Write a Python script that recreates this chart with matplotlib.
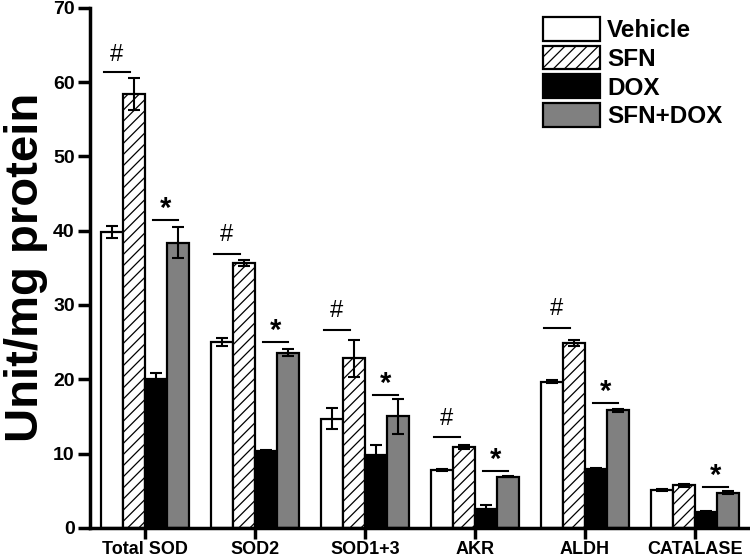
import numpy as np
import matplotlib
matplotlib.use("Agg")
import matplotlib.pyplot as plt

plt.rcParams['font.family'] = ['Liberation Sans', 'DejaVu Sans']
plt.rcParams['font.weight'] = 'bold'
plt.rcParams['hatch.linewidth'] = 0.9

categorias = ["Total SOD", "SOD2", "SOD1+3", "AKR", "ALDH", "CATALASE"]
grupos = ["Vehicle", "SFN", "DOX", "SFN+DOX"]

vehicle = [39.8, 25.0, 14.7, 7.8, 19.7, 5.1]
vehicle_err = [0.8, 0.5, 1.4, 0.1, 0.2, 0.1]
sfn = [58.4, 35.7, 22.8, 10.9, 24.9, 5.75]
sfn_err = [2.1, 0.4, 2.5, 0.3, 0.4, 0.2]
dox = [20.0, 10.3, 9.8, 2.6, 7.9, 2.15]
dox_err = [0.8, 0.2, 1.3, 0.5, 0.15, 0.1]
sfn_dox = [38.4, 23.6, 15.0, 6.9, 15.8, 4.75]
sfn_dox_err = [2.1, 0.5, 2.4, 0.1, 0.2, 0.25]

# marcas de significancia: altura da linha e do simbolo (None = sem marca)
hash_linha = [61.3, 36.9, 26.6, 12.2, 26.9, None]
hash_texto = [63.6, 39.4, 29.2, 14.6, 29.4, None]
estrela_linha = [41.4, 25.0, 17.9, 7.7, 16.8, 5.5]
estrela_texto = [42.9, 26.5, 19.4, 9.2, 18.3, 7.0]

valores = [vehicle, sfn, dox, sfn_dox]
erros = [vehicle_err, sfn_err, dox_err, sfn_dox_err]
cores = ['white', 'white', 'black', '#808080']
hatches = [None, '///', None, None]

fig = plt.figure(figsize=(7.5, 5.58), dpi=100)
ax = fig.add_axes([0.12, 0.054, 0.88, 0.932])

x = np.arange(len(categorias))
largura = 0.2
for k in range(4):
    pos = x + (k - 1.5) * largura
    ax.bar(pos, valores[k], largura, color=cores[k], edgecolor='black',
           linewidth=1.6, hatch=hatches[k], label=grupos[k], zorder=2)
    ax.errorbar(pos, valores[k], yerr=erros[k], fmt='none', ecolor='black',
                elinewidth=1.5, capsize=4, capthick=1.5, zorder=3)

for i in range(len(categorias)):
    if hash_linha[i] is not None:
        ax.plot([i - 0.37, i - 0.14], [hash_linha[i]] * 2, color='black', lw=1.5)
        ax.text(i - 0.255, hash_texto[i], '#', ha='center', va='center',
                fontsize=17, fontweight='normal')
    if estrela_linha[i] is not None:
        ax.plot([i + 0.07, i + 0.30], [estrela_linha[i]] * 2, color='black', lw=1.5)
        ax.text(i + 0.185, estrela_texto[i], '*', ha='center', va='center',
                fontsize=21, fontweight='bold')

ax.set_xlim(-0.5, 5.5)
ax.set_ylim(0, 70)
ax.set_xticks(x)
ax.set_xticklabels(categorias, fontsize=13, fontweight='bold')
ax.set_yticks(range(0, 71, 10))
ax.tick_params(axis='y', labelsize=14, width=2.5, length=9, direction='out', pad=2)
ax.tick_params(axis='x', width=2.5, length=8, direction='out', pad=1.5)
for lab in ax.get_yticklabels():
    lab.set_fontweight('bold')
ax.spines['top'].set_visible(False)
ax.spines['right'].set_visible(False)
ax.spines['left'].set_linewidth(2.5)
ax.spines['bottom'].set_linewidth(2.5)

ax.set_ylabel("Unit/mg protein", fontsize=34, fontweight='bold', labelpad=4)

ax.legend(loc='upper left', bbox_to_anchor=(0.66, 1.015), frameon=False,
          handlelength=2.35, handleheight=1.12, labelspacing=0.15,
          handletextpad=0.3, borderaxespad=0.3, prop={'weight': 'bold', 'size': 17.5})

fig.savefig("out.png", dpi=100)
